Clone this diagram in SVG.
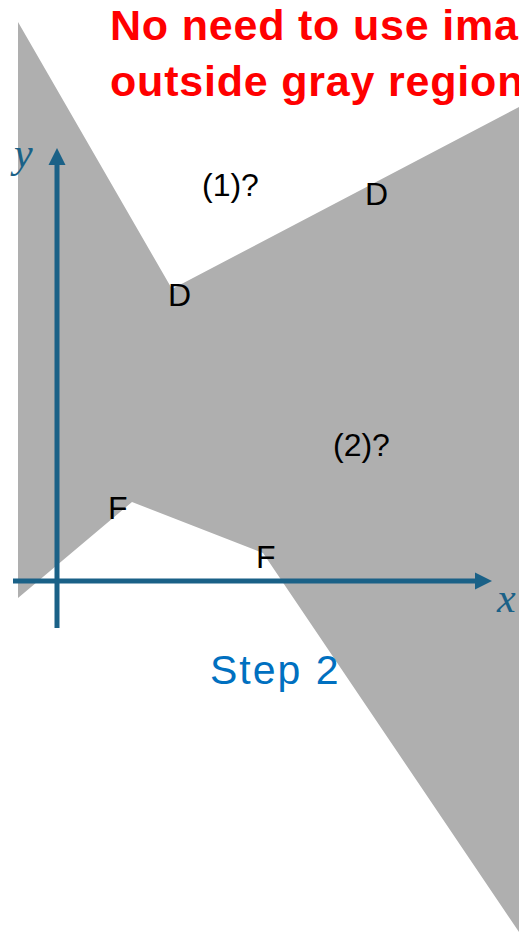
<svg xmlns="http://www.w3.org/2000/svg" width="519" height="945" viewBox="0 0 519 945">
<style>
.lbl{font-family:"Liberation Sans",Arial,sans-serif;font-size:32px;fill:#000}
.ax{stroke:#1a6187;stroke-width:5;fill:none}
.axl{font-family:"Liberation Serif","DejaVu Serif",serif;font-style:italic;fill:#1a6187;font-size:42px}
.title{font-family:"Liberation Sans",Arial,sans-serif;font-weight:bold;font-size:43px;letter-spacing:0.8px;fill:#ff0000}
</style>
<defs>
<marker id="ah" markerWidth="18" markerHeight="18" refX="0" refY="0" viewBox="-1 -9 18 18" markerUnits="userSpaceOnUse" orient="auto">
<path d="M0,-8.5 L17,0 L0,8.5 Z" fill="#1a6187"/>
</marker>
</defs>
<rect width="519" height="945" fill="#fff"/>
<g id="region">
<polygon points="18,22 172,289 519,107 519,932 263,553 132,502 18,598" fill="#afafaf"/>
</g>
<g id="connectors">
<line class="ax" x1="57" y1="628" x2="57" y2="165" marker-end="url(#ah)"/>
<line class="ax" x1="13" y1="581" x2="475" y2="581" marker-end="url(#ah)"/>
</g>
<g id="axis-labels">
<text class="axl" x="14" y="167">y</text>
<text class="axl" x="497" y="612">x</text>
</g>
<g id="labels">
<text class="lbl" x="202" y="196">(1)?</text>
<text class="lbl" x="365" y="205">D</text>
<text class="lbl" x="168" y="306">D</text>
<text class="lbl" x="333" y="456">(2)?</text>
<text class="lbl" x="108" y="519">F</text>
<text class="lbl" x="256" y="568">F</text>
</g>
<g id="title">
<text class="title" x="110" y="40">No need to use ima</text>
<text class="title" x="110" y="96">outside gray region</text>
</g>
<g id="step">
<text x="210" y="684" font-family="'Liberation Sans',Arial,sans-serif" font-size="41" letter-spacing="2" fill="#0070c0">Step 2</text>
</g>
</svg>
